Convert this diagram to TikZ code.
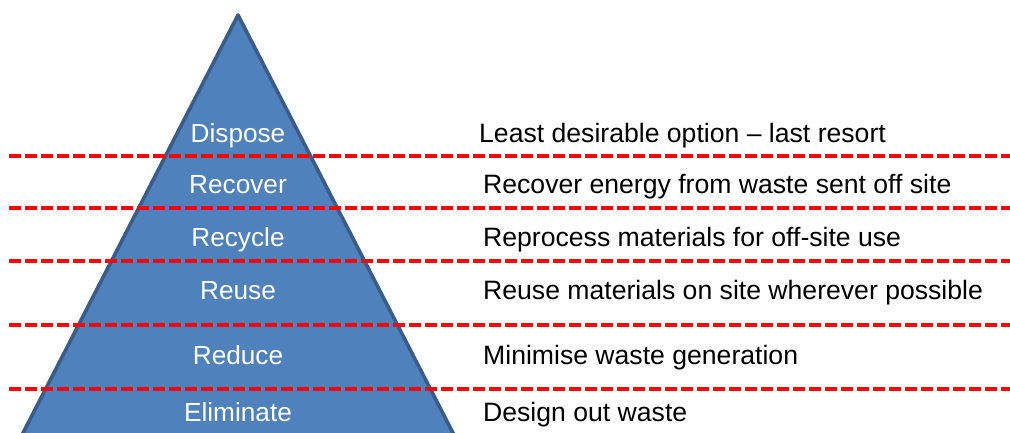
\documentclass[tikz,border=0pt]{standalone}
\usepackage{fontspec}
\setmainfont{Liberation Sans}
\definecolor{pyrfill}{RGB}{79,129,189}
\definecolor{pyredge}{RGB}{56,93,138}
\definecolor{sepred}{RGB}{255,0,0}
\begin{document}
\begin{tikzpicture}[x=1pt,y=-1pt,
  level/.style={anchor=base,inner sep=0pt,text=white,font=\fontsize{26.2}{30}\selectfont},
  note/.style={anchor=base west,inner sep=0pt,text=black,font=\fontsize{26.6}{30}\selectfont},
  separator/.style={draw=sepred,line width=3.8pt,dash pattern=on 11.5pt off 4.5pt}]
\useasboundingbox (0,0) rectangle (1010,432);
% hierarchy pyramid, base running off the bottom edge
\begin{scope}
  \clip (0,0) rectangle (1010,432);
  \draw[fill=pyrfill,draw=pyredge,line width=3.6pt,line join=round]
    (238,15) -- (477.2,480) -- (-1.2,480) -- cycle;
\end{scope}
% level names
\node[level] (dispose)   at (238,142) {Dispose};
\node[level] (recover)   at (238,193) {Recover};
\node[level] (recycle)   at (238,246) {Recycle};
\node[level] (reuse)     at (238,299) {Reuse};
\node[level] (reduce)    at (238,364) {Reduce};
\node[level] (eliminate) at (238,421) {Eliminate};
% descriptions
\node[note] (dDispose)   at (479,142) {Least desirable option -- last resort};
\node[note] (dRecover)   at (483,193) {Recover energy from waste sent off site};
\node[note] (dRecycle)   at (483,246) {Reprocess materials for off-site use};
\node[note] (dReuse)     at (483,299) {Reuse materials on site wherever possible};
\node[note] (dReduce)    at (483,364) {Minimise waste generation};
\node[note] (dEliminate) at (483,421) {Design out waste};
% dashed separators between levels
\foreach \yy in {156,208,261,325,389}
  \draw[separator] (9,\yy) -- (1010,\yy);
\end{tikzpicture}
\end{document}
